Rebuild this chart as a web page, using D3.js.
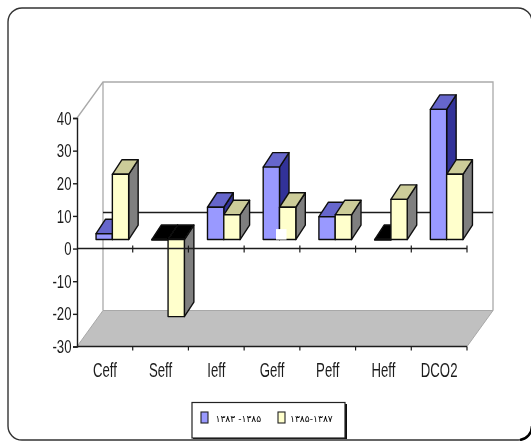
<!DOCTYPE html>
<html>
<head>
<meta charset="utf-8">
<script src="https://cdn.jsdelivr.net/npm/d3@7"></script>
<style>
html,body{margin:0;padding:0;background:#fff;overflow:hidden}
svg{display:block}
</style>
</head>
<body>
<svg id="chart" width="531" height="441"></svg>
<script>
const categories = ["Ceff","Seff","Ieff","Geff","Peff","Heff","DCO2"];
const seriesA = [1.8, 0, 9.9, 22.2, 7, 0, 39.9];
const seriesB = [20, -23.6, 7.6, 9.9, 7.6, 12.3, 20];
const seriesNames = ["۱۳۸۳ -۱۳۸۵", "۱۳۸۵-۱۳۸۷"];
const yTicks = [40,30,20,10,0,-10,-20,-30];
const palette = [
  {front:"#9999FF", top:"#6666CC", side:"#333399"},
  {front:"#FFFFCC", top:"#CCCC99", side:"#7F7F7F"}
];

const svg = d3.select("#chart");
const root = svg.append("g").attr("filter","url(#soft)");
svg.append("defs").append("filter").attr("id","soft")
  .attr("x",0).attr("y",0).attr("width",531).attr("height",441)
  .attr("filterUnits","userSpaceOnUse")
  .append("feGaussianBlur").attr("stdDeviation",0.45);

const x = d3.scaleBand().domain(categories).range([77,467]);
const y = d3.scaleLinear().domain([-30,40]).range([346.5,118]);
const wallDx = 26, wallDy = -36;
const planeDx = 7.5, planeDy = -9;
const depthDx = 9.5, depthDy = -14.5;
const barW = 16.3;
const line = d3.line();
const ink = "#1c1c1c";

root.append("rect").attr("width",531).attr("height",441).attr("fill","#fff");
root.append("rect").attr("x",8).attr("y",8).attr("width",524).attr("height",432)
  .attr("rx",14).attr("ry",14).attr("fill","#fff").attr("stroke","#333").attr("stroke-width",1.4);
root.append("path").attr("d","M520,440 A14,14 0 0 0 532,426").attr("fill","none")
  .attr("stroke","#000").attr("stroke-width",2.6);

// walls and floor
const L = x.range()[0], R = x.range()[1];
const yTop = y(40), yBot = y(-30), yZero = y(0);
root.append("path").attr("fill","#C0C0C0").attr("stroke","#a8a8a8")
  .attr("d",line([[L,yBot],[R,yBot],[R+wallDx,yBot+wallDy],[L+wallDx,yBot+wallDy]])+"Z");
root.append("path").attr("fill","none").attr("stroke","#aaa").attr("stroke-width",1.3)
  .attr("d",line([[L,yTop],[L+wallDx,yTop+wallDy],[R+wallDx,yTop+wallDy],[R+wallDx,yBot+wallDy]]));
root.append("path").attr("fill","none").attr("stroke","#aaa").attr("stroke-width",1.3)
  .attr("d",line([[L+wallDx,yTop+wallDy],[L+wallDx,yBot+wallDy]]));
root.append("path").attr("stroke",ink).attr("stroke-width",1.4)
  .attr("d",line([[L+wallDx,yZero+wallDy],[R+wallDx,yZero+wallDy]]));

// bars
const series = [seriesA, seriesB];
const barGroup = root.append("g");
categories.forEach((c,i)=>{
  series.forEach((vals,s)=>{
    const v = vals[i], col = palette[s];
    const x0 = x(c)+x.bandwidth()/2+planeDx-barW+s*barW;
    const x1 = x0+barW;
    const yBase = y(0)+planeDy;
    const yVal = y(v)+planeDy;
    const yT = Math.min(yBase,yVal), yB = Math.max(yBase,yVal);
    const g = barGroup.append("g").attr("stroke","#111").attr("stroke-width",1.4).attr("stroke-linejoin","round");
    g.append("path").attr("fill",col.side)
      .attr("d",line([[x1,yT],[x1+depthDx,yT+depthDy],[x1+depthDx,yB+depthDy],[x1,yB]])+"Z");
    g.append("path").attr("fill", v<=0 ? "#000" : col.top)
      .attr("d",line([[x0,yT],[x0+depthDx,yT+depthDy],[x1+depthDx,yT+depthDy],[x1,yT]])+"Z");
    g.append("rect").attr("x",x0).attr("y",yT).attr("width",barW).attr("height",Math.max(yB-yT,0.5))
      .attr("fill",col.front);
  });
});
// white speck on the Geff bars, present in the reference
const speckCategory = "Geff";
root.append("rect")
  .attr("x",x(speckCategory)+x.bandwidth()/2+planeDx-3.5)
  .attr("y",y(0)+planeDy-10.5).attr("width",10.5).attr("height",10.5).attr("fill","#fff");

// axes
const axisY = root.append("g").attr("transform",`translate(${L},0)`)
  .call(d3.axisLeft(y).tickValues(yTicks).tickSize(4).tickPadding(0));
axisY.selectAll("path,line").attr("stroke",ink).attr("stroke-width",1.4);
axisY.selectAll("text").remove();
yTicks.forEach(t=>{
  root.append("text")
    .attr("transform",`translate(71.5,${y(t)+6.6}) scale(1,1.35)`)
    .attr("text-anchor","end").attr("font-family","Liberation Sans")
    .attr("font-size",13.2).attr("fill",ink).text(t);
});

[yBot,yZero].forEach((yy,k)=>{
  root.append("path").attr("stroke",ink).attr("stroke-width",1.4).attr("d",line([[L,yy],[R,yy]]));
  const edges = categories.map(c=>x(c)+x.bandwidth());
  root.append("g").selectAll("line").data(edges).join("line")
    .attr("x1",d=>d).attr("x2",d=>d)
    .attr("y1",k?yy-3:yy).attr("y2",yy+4)
    .attr("stroke",ink).attr("stroke-width",1.2);
});

categories.forEach(c=>{
  root.append("text")
    .attr("transform",`translate(${x(c)+x.bandwidth()/2},376.5) scale(1,1.5)`)
    .attr("text-anchor","middle").attr("font-family","Liberation Sans")
    .attr("font-size",13.2).attr("fill",ink).text(c);
});

// legend
const lg = root.append("g");
lg.append("rect").attr("x",193).attr("y",404).attr("width",154).attr("height",35).attr("fill","#111");
lg.append("rect").attr("x",192).attr("y",402.5).attr("width",153).attr("height",35.5)
  .attr("fill","#fff").attr("stroke","#222").attr("stroke-width",1.2);
const legendX = [201,278];
const legendTextX = [215.5,290];
seriesNames.forEach((n,i)=>{
  lg.append("rect").attr("x",legendX[i]).attr("y",412).attr("width",7).attr("height",11)
    .attr("fill",palette[i].front).attr("stroke","#222").attr("stroke-width",1.1);
  lg.append("text").attr("x",legendTextX[i]).attr("y",422)
    .attr("font-family","DejaVu Sans").attr("font-size",9.2).attr("fill","#000")
    .attr("direction","ltr").text(n);
});
</script>
</body>
</html>
